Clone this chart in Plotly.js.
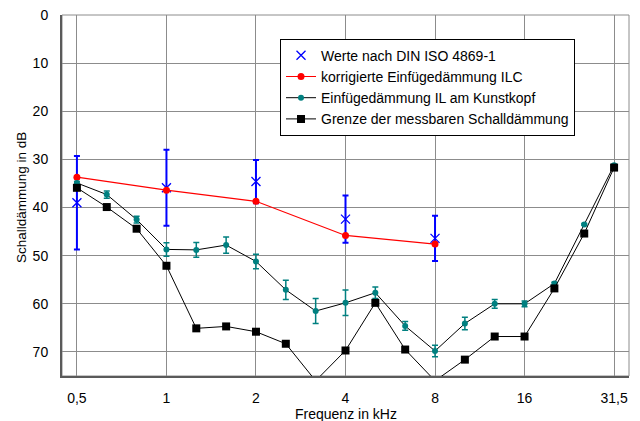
<!DOCTYPE html>
<html>
<head>
<meta charset="utf-8">
<script src="https://cdn.plot.ly/plotly-3.0.1.min.js"></script>
<style>html,body{margin:0;padding:0;background:#fff;}#chart{width:640px;height:421px;}</style>
</head>
<body>
<div id="chart"></div>
<script>
// Third-octave frequency categories (kHz)
const freqs = ['0,5','0,63','0,8','1','1,25','1,6','2','2,5','3,15','4','5','6,3','8','10','12,5','16','20','25','31,5'];
const octaveTicks = ['0,5','1','2','4','8','16','31,5'];

// Werte nach DIN ISO 4869-1 (octaves)
const dinFreqs = ['0,5','1','2','4','8'];
const dinValues = [39.0, 35.9, 34.6, 42.4, 46.4];
const dinError = [9.7, 7.9, 4.5, 4.9, 4.7];

// korrigierte Einfügedämmung ILC (octaves)
const ilcFreqs = ['0,5','1','2','4','8'];
const ilcValues = [33.7, 36.4, 38.7, 45.8, 47.6];

// Einfügedämmung IL am Kunstkopf (third octaves)
const ilValues = [34.9, 37.3, 42.5, 48.7, 48.8, 47.8, 51.2, 57.1, 61.5, 59.8, 57.7, 64.6, 69.8, 64.1, 60.0, 60.0, 55.8, 43.5, 31.2];
const ilError = [0.3, 0.75, 0.7, 1.4, 1.55, 1.7, 1.5, 2.0, 2.6, 2.65, 1.2, 0.9, 1.2, 1.3, 0.9, 0.6, 0.3, 0.2, 0.2];

// Grenze der messbaren Schalldämmung (third octaves)
const limitValues = [35.9, 39.9, 44.4, 52.1, 65.1, 64.7, 65.8, 68.3, 76.0, 69.7, 59.8, 69.5, 76.0, 71.6, 66.8, 66.8, 56.8, 45.4, 31.7];

const traces = [
  {
    name: 'Werte nach DIN ISO 4869-1',
    x: dinFreqs, y: dinValues, type: 'scatter', mode: 'markers',
    marker: {symbol: 'x-thin-open', size: 9, color: '#0000ff', line: {color: '#0000ff', width: 1.3}},
    error_y: {type: 'data', array: dinError, visible: true, color: '#0000ff', thickness: 2, width: 3}
  },
  {
    name: 'korrigierte Einfügedämmung ILC',
    x: ilcFreqs, y: ilcValues, type: 'scatter', mode: 'lines+markers',
    line: {color: '#ff0000', width: 1.2},
    marker: {symbol: 'circle', size: 7, color: '#ff0000'}
  },
  {
    name: 'Einfügedämmung IL am Kunstkopf',
    x: freqs, y: ilValues, type: 'scatter', mode: 'lines+markers',
    line: {color: '#000000', width: 1},
    marker: {symbol: 'circle', size: 6, color: '#008080'},
    error_y: {type: 'data', array: ilError, visible: true, color: '#008080', thickness: 1.5, width: 3}
  },
  {
    name: 'Grenze der messbaren Schalldämmung',
    x: freqs, y: limitValues, type: 'scatter', mode: 'lines+markers',
    line: {color: '#000000', width: 1},
    marker: {symbol: 'square', size: 8, color: '#000000'}
  }
];

const fam = '"Liberation Sans", Arial, sans-serif';

const layout = {
  width: 640, height: 421,
  margin: {l: 62, r: 11, t: 15, b: 45, pad: 0},
  paper_bgcolor: '#fff', plot_bgcolor: '#fff',
  font: {family: fam, size: 14, color: '#000'},
  showlegend: true,
  legend: {
    x: 0.3845, y: 0.8, xanchor: 'left', yanchor: 'middle',
    bgcolor: '#fff', bordercolor: '#000', borderwidth: 1,
    font: {family: fam, size: 14, color: '#000'},
    tracegroupgap: 0, itemwidth: 30
  },
  xaxis: {
    type: 'category', categoryorder: 'array', categoryarray: freqs,
    range: [-0.5, 18.5],
    tickmode: 'array', tickvals: octaveTicks, ticktext: octaveTicks,
    tickfont: {family: fam, size: 14, color: '#000'},
    showgrid: true, gridcolor: '#8c8c8c', gridwidth: 1,
    showline: true, linecolor: '#5a5a5a', linewidth: 2,
    ticks: '', ticklabelstandoff: 8,
    zeroline: false, fixedrange: true
  },
  yaxis: {
    range: [75, 0], autorange: false,
    tickmode: 'array', tickvals: [0, 10, 20, 30, 40, 50, 60, 70], ticktext: ['0','10','20','30','40','50','60','70'],
    tickfont: {family: fam, size: 14, color: '#000'},
    showgrid: true, gridcolor: '#8c8c8c', gridwidth: 1,
    showline: true, linecolor: '#5a5a5a', linewidth: 2,
    ticks: '', ticklabelstandoff: 9,
    zeroline: false, fixedrange: true
  },
  shapes: [
    {type: 'rect', xref: 'paper', yref: 'paper', x0: 0, x1: 1, y0: 0, y1: 1,
     line: {color: '#8c8c8c', width: 1}, fillcolor: 'rgba(0,0,0,0)', layer: 'below'}
  ],
  annotations: [
    {text: 'Frequenz in kHz', xref: 'paper', yref: 'paper', x: 0.5, y: -0.106,
     xanchor: 'center', yanchor: 'middle', showarrow: false,
     font: {family: fam, size: 14, color: '#000'}},
    {text: 'Schalldämmung in dB', xref: 'paper', yref: 'paper', x: -0.071, y: 0.495,
     xanchor: 'center', yanchor: 'middle', showarrow: false, textangle: -90,
     font: {family: fam, size: 13.5, color: '#000'}}
  ]
};

Plotly.newPlot('chart', traces, layout, {displayModeBar: false, staticPlot: true});
</script>
</body>
</html>
